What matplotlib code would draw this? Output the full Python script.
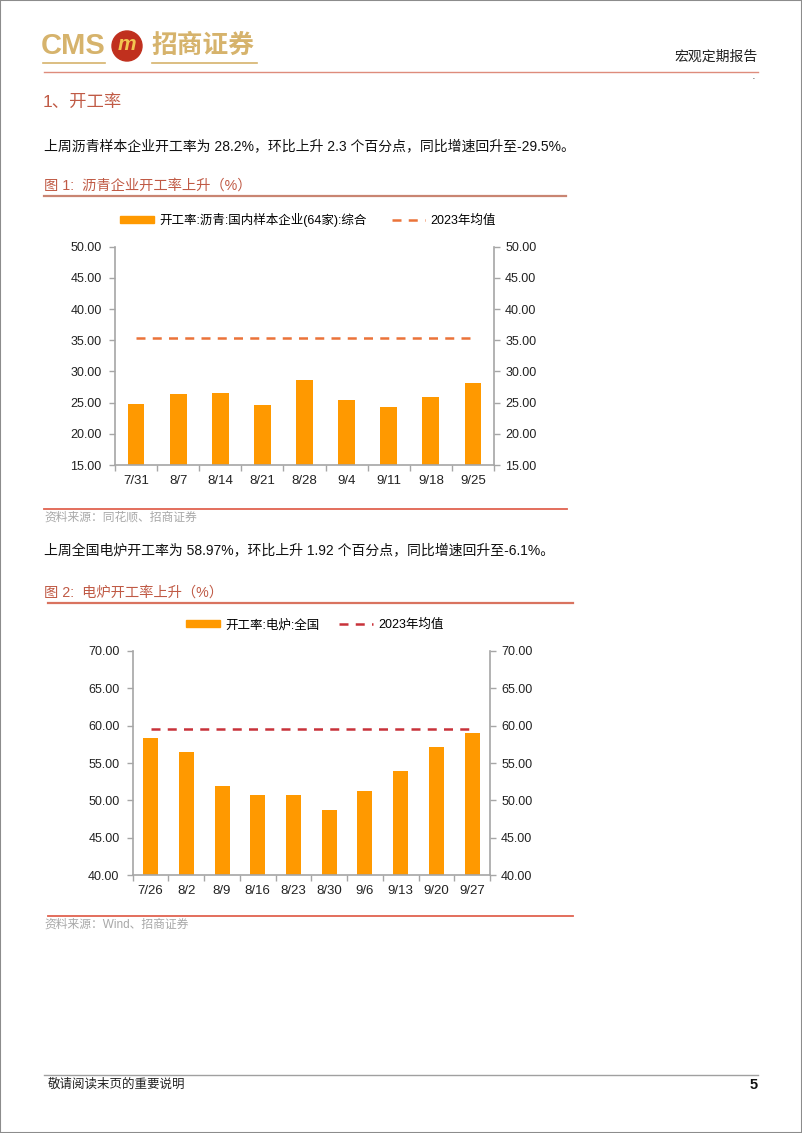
import matplotlib.pyplot as plt
import matplotlib.patches as mpatches
import matplotlib.lines as mlines
from matplotlib.ticker import FixedLocator

# -------------------------------------
# Data
# -------------------------------------
asphalt_dates = ["7/31", "8/7", "8/14", "8/21", "8/28", "9/4", "9/11", "9/18", "9/25"]
asphalt_rate = [24.78, 26.38, 26.49, 24.57, 28.57, 25.48, 24.30, 25.90, 28.20]
asphalt_avg_2023 = 35.36

furnace_dates = ["7/26", "8/2", "8/9", "8/16", "8/23", "8/30", "9/6", "9/13", "9/20", "9/27"]
furnace_rate = [58.35, 56.43, 51.96, 50.67, 50.67, 48.75, 51.29, 53.88, 57.10, 58.97]
furnace_avg_2023 = 59.55

asphalt_ticks = [15, 20, 25, 30, 35, 40, 45, 50]
furnace_ticks = [40, 45, 50, 55, 60, 65, 70]

W, H = 802, 1133
FONT = ["Liberation Sans", "Noto Sans CJK SC"]
plt.rcParams["font.family"] = FONT

fig = plt.figure(figsize=(W / 100, H / 100), dpi=100)


def fx(x):
    return x / W


def fy(y):
    return 1 - y / H


def hline(x0, x1, y, color, lw=1.0):
    fig.add_artist(mlines.Line2D([fx(x0), fx(x1)], [fy(y), fy(y)], color=color, lw=lw,
                                 transform=fig.transFigure))


def text(x, y, s, **kw):
    fig.text(fx(x), fy(y), s, va="center", **kw)


# -------------------------------------
# Page header / footer
# -------------------------------------
gold = "#D6B36C"
text(41, 46, "CMS", color=gold, fontsize=21, fontweight="bold")
fig.add_artist(mpatches.Ellipse((fx(127), fy(46)), 30 / W, 30 / H, color="#C0301E",
                                transform=fig.transFigure))
text(127, 45, "m", color="#F2C650", fontsize=15, fontweight="bold", style="italic",
     ha="center")
text(151, 46, "招商证券", color=gold, fontsize=18.5, fontweight="bold")
hline(43, 105, 63, gold, 1.2)
hline(152, 257, 63, gold, 1.2)
text(758, 57, "宏观定期报告", color="#222222", fontsize=10, ha="right")
hline(44, 758, 72, "#DE8C7C", 1.0)
text(752, 79, "·", color="#333333", fontsize=8)

title_red = "#C05A45"
text(43, 102, "1、开工率", color=title_red, fontsize=12.5)

text(44, 146, "上周沥青样本企业开工率为 28.2%，环比上升 2.3 个百分点，同比增速回升至-29.5%。",
     color="#111111", fontsize=10)
text(44, 186, "图 1:  沥青企业开工率上升（%）", color=title_red, fontsize=10.3)
hline(44, 566, 195.5, "#C98572", 1.6)
hline(44, 567, 509, "#E0624F", 1.3)
text(44, 518, "资料来源：同花顺、招商证券", color="#A8A8A8", fontsize=8.5)

text(44, 550, "上周全国电炉开工率为 58.97%，环比上升 1.92 个百分点，同比增速回升至-6.1%。",
     color="#111111", fontsize=10)
text(44, 593, "图 2:  电炉开工率上升（%）", color=title_red, fontsize=10.3)
hline(48, 573, 602.5, "#D9735F", 1.6)
hline(48, 573, 916, "#E0624F", 1.3)
text(44, 925, "资料来源：Wind、招商证券", color="#A8A8A8", fontsize=8.5)

hline(44, 758, 1075, "#A0A0A0", 1.0)
text(48, 1085, "敬请阅读末页的重要说明", color="#222222", fontsize=9)
text(758, 1085, "5", color="#111111", fontsize=10.5, fontweight="bold", ha="right")

fig.add_artist(mpatches.Rectangle((0, 0), 1, 1, fill=False, edgecolor="#8C8C8C", lw=1.5,
                                  transform=fig.transFigure))


# -------------------------------------
# Charts
# -------------------------------------
def bar_chart(rect, dates, values, avg, ticks, line_color, bar_label, legend_xy, bar_w,
              col_space):
    ax = fig.add_axes(rect)
    x = list(range(len(dates)))
    ax.bar(x, values, width=bar_w, color="#FF9900", zorder=2)
    ax.plot([x[0], x[-1]], [avg, avg], color=line_color, lw=1.8,
            linestyle=(0, (3.6, 2.9)), zorder=3)
    ax.set_xlim(-0.5, len(dates) - 0.5)
    ax.set_ylim(ticks[0], ticks[-1])
    ax.set_yticks(ticks)
    ax.set_yticklabels([f"{t:.2f}" for t in ticks])
    ax.set_xticks(x)
    ax.set_xticklabels(dates)
    ax.xaxis.set_minor_locator(FixedLocator([i - 0.5 for i in range(len(dates) + 1)]))
    ax.tick_params(axis="x", which="major", length=0, pad=7, labelsize=9.5,
                   labelcolor="#222222")
    ax.tick_params(axis="x", which="minor", length=4, color="#A6A6A6", width=1)
    ax.tick_params(axis="y", length=4, color="#A6A6A6", width=1, labelsize=9,
                  labelcolor="#222222", pad=5.5)
    for s in ["top", "right"]:
        ax.spines[s].set_visible(False)
    for s in ["left", "bottom"]:
        ax.spines[s].set_color("#A6A6A6")
        ax.spines[s].set_linewidth(1.2)

    ax2 = ax.twinx()
    ax2.set_ylim(ticks[0], ticks[-1])
    ax2.set_yticks(ticks)
    ax2.set_yticklabels([f"{t:.2f}" for t in ticks])
    ax2.tick_params(axis="y", length=4, color="#A6A6A6", width=1, labelsize=9,
                    labelcolor="#222222", pad=4)
    for s in ["top", "left", "bottom"]:
        ax2.spines[s].set_visible(False)
    ax2.spines["right"].set_color("#A6A6A6")
    ax2.spines["right"].set_linewidth(1.2)

    handles = [mpatches.Patch(color="#FF9900"),
               mlines.Line2D([], [], color=line_color, lw=1.8, linestyle=(0, (3.6, 2.9)))]
    fig.legend(handles, [bar_label, "2023年均值"], loc="center",
               bbox_to_anchor=(fx(legend_xy[0]), fy(legend_xy[1])), ncol=2,
               frameon=False, fontsize=9, handlelength=2.7, handleheight=0.5,
               handletextpad=0.4, columnspacing=col_space)
    return ax


bar_chart([fx(115), fy(465), fx(494) - fx(115), fy(246.7) - fy(465)],
          asphalt_dates, asphalt_rate, asphalt_avg_2023, asphalt_ticks, "#EB7339",
          "开工率:沥青:国内样本企业(64家):综合", (308, 220), 0.40, 2.0)

bar_chart([fx(132.7), fy(875), fx(490) - fx(132.7), fy(651) - fy(875)],
          furnace_dates, furnace_rate, furnace_avg_2023, furnace_ticks, "#C8323A",
          "开工率:电炉:全国", (315, 625), 0.42, 1.6)

fig.savefig("out.png", dpi=100)
